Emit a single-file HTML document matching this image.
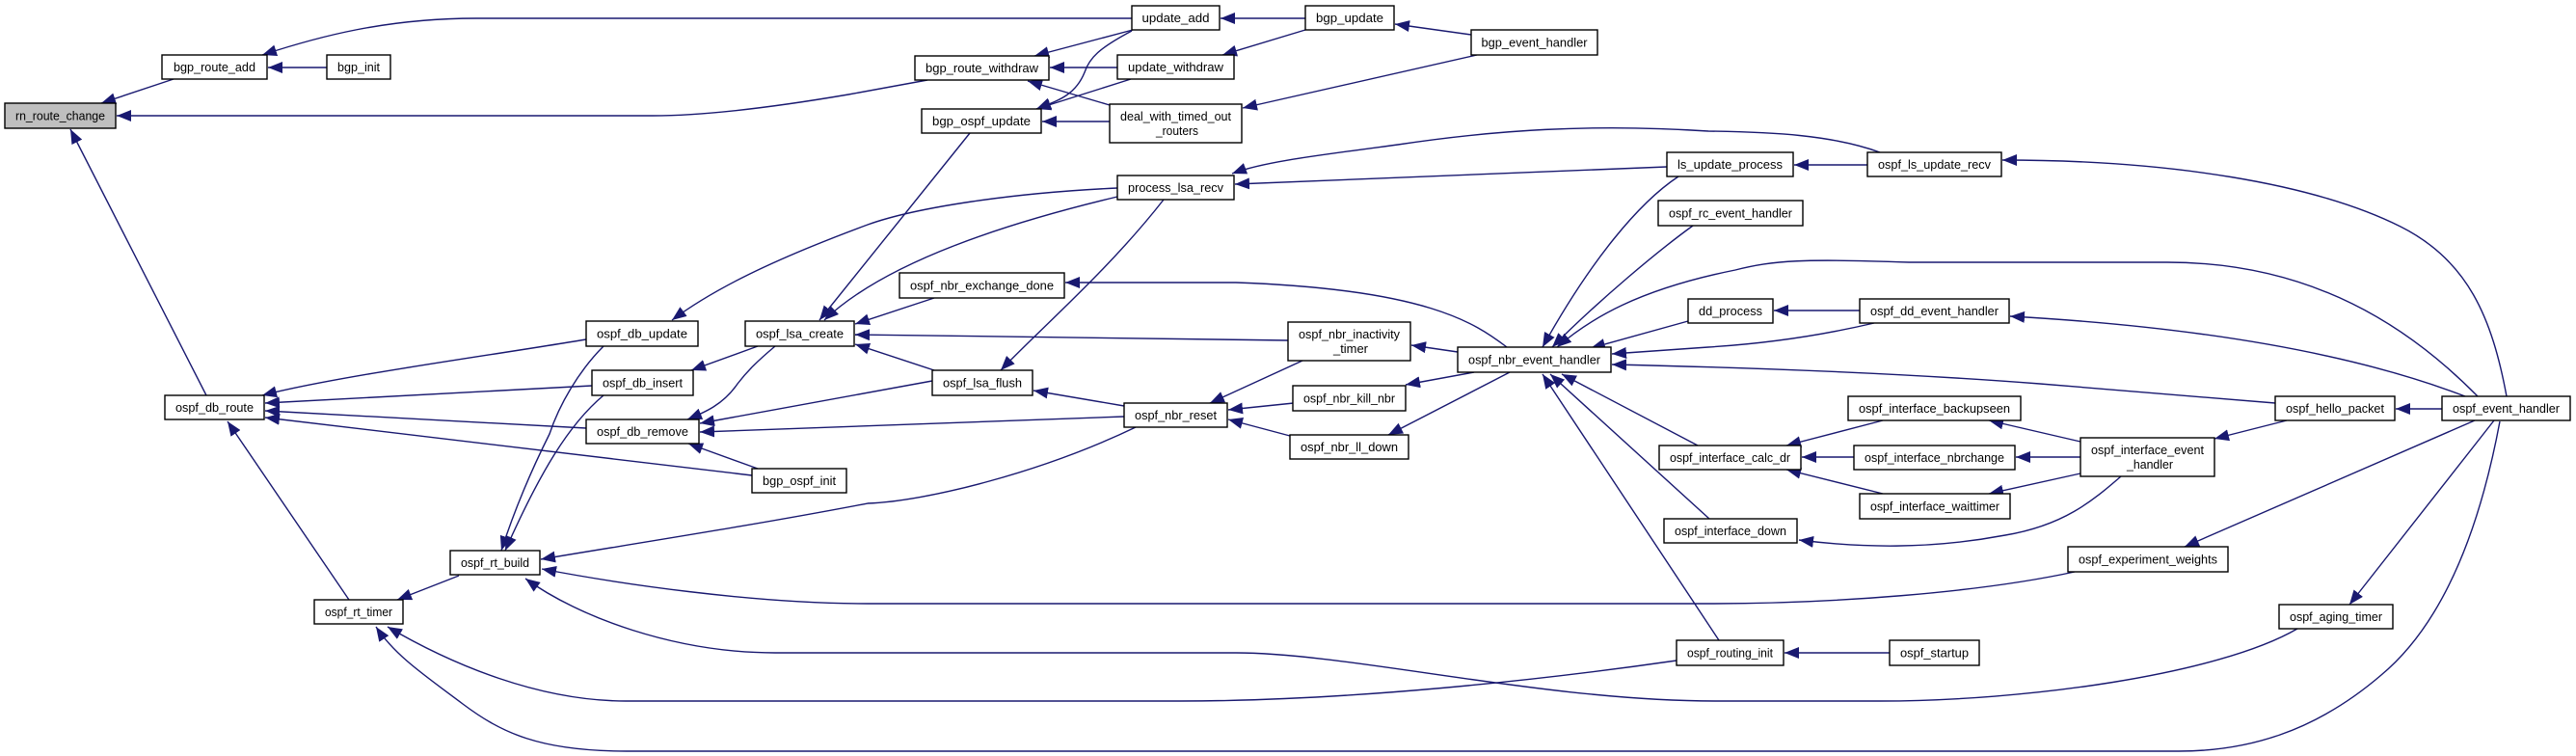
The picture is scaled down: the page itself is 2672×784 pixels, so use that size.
<!DOCTYPE html>
<html><head><meta charset="utf-8"><style>
html,body{margin:0;padding:0;background:#fff;}
svg{display:block;}
text{font-family:"Liberation Sans",Arial,sans-serif;font-size:13px;fill:#000;}
</style></head><body>
<svg width="2672" height="784" viewBox="0 0 2672 784" xmlns="http://www.w3.org/2000/svg">
<defs>
<marker id="a" markerUnits="userSpaceOnUse" markerWidth="16" markerHeight="12" refX="15" refY="6" orient="auto">
<path d="M0,0 L15,6 L0,12 z" fill="#191970"/>
</marker>
</defs>
<g fill="none" stroke="#191970" stroke-width="1.4" marker-end="url(#a)">
<path d="M180,82 L105,107"/>
<path d="M1174,19 L494,19 C400,19 330,38 272,57"/>
<path d="M339,70 L278,70"/>
<path d="M962,83 L880,98 C780,115 720,120 677,120 L121,120"/>
<path d="M214,410 L73,134"/>
<path d="M1175,31 L1073,58"/>
<path d="M1159,70 L1089,70"/>
<path d="M1151,109 L1066,84"/>
<path d="M1174,32 C1140,50 1130,60 1125,75 C1115,100 1095,105 1075,113"/>
<path d="M1173,82 L1075,113"/>
<path d="M1151,126 L1081,126"/>
<path d="M1354,19 L1266,19"/>
<path d="M1354,31 L1268,57"/>
<path d="M1526,36 L1447,25"/>
<path d="M1532,57 L1289,112"/>
<path d="M1006,138 L850,332"/>
<path d="M1159,204 C1050,230 920,270 855,332"/>
<path d="M1159,195 C1050,200 950,215 900,233 C800,270 740,300 697,332"/>
<path d="M1207,207 C1150,280 1080,340 1038,384"/>
<path d="M1729,173 L1281,191"/>
<path d="M1950,158 C1900,140 1840,137 1772,136 C1650,128 1550,135 1450,150 C1360,162 1310,168 1278,180"/>
<path d="M1937,171 L1861,171"/>
<path d="M2600,411 C2585,330 2560,270 2490,235 C2400,190 2250,166 2077,166"/>
<path d="M969,309 L887,336"/>
<path d="M1563,360 C1530,335 1480,300 1282,293 L1105,293"/>
<path d="M1336,353 L887,347"/>
<path d="M969,384 L887,357"/>
<path d="M786,359 L717,384"/>
<path d="M804,359 C785,375 775,385 765,398 C750,420 730,428 713,435"/>
<path d="M608,352 C500,370 350,390 272,410"/>
<path d="M614,400 L275,418"/>
<path d="M608,444 L275,426"/>
<path d="M780,493 L275,433"/>
<path d="M786,486 L714,460"/>
<path d="M967,395 L726,439"/>
<path d="M1166,432 L726,448"/>
<path d="M626,359 C600,385 580,420 570,450 C545,500 530,540 520,571"/>
<path d="M626,410 C590,440 560,490 524,571"/>
<path d="M1178,443 C1080,490 960,520 900,522 C780,545 650,565 561,580"/>
<path d="M2152,593 C2050,615 1900,626 1772,626 L900,626 C780,626 640,605 562,590"/>
<path d="M2383,652 C2300,700 2100,727 1950,727 L1780,727 C1600,727 1400,677 1282,677 L804,677 C700,677 600,640 545,600"/>
<path d="M1739,685 C1600,705 1400,727 1224,727 L649,727 C560,727 470,690 402,650"/>
<path d="M2593,437 C2570,560 2530,650 2470,700 C2400,760 2330,779 2260,779 L650,779 C560,779 520,760 480,730 C440,700 410,680 390,650"/>
<path d="M476,597 L412,622"/>
<path d="M362,622 L236,437"/>
<path d="M1351,374 L1255,418"/>
<path d="M1342,418 L1274,425"/>
<path d="M1338,452 L1274,435"/>
<path d="M1166,421 L1072,405"/>
<path d="M1512,365 L1464,358"/>
<path d="M1529,386 L1458,399"/>
<path d="M1566,386 L1440,451"/>
<path d="M1741,183 C1700,210 1650,270 1600,360"/>
<path d="M1756,234 C1720,260 1660,310 1610,360"/>
<path d="M2570,411 C2500,340 2400,272 2248,272 L1980,272 C1870,268 1840,270 1800,280 C1700,300 1650,330 1615,360"/>
<path d="M1751,333 L1650,361"/>
<path d="M1944,335 C1880,350 1820,357 1772,360 L1672,367"/>
<path d="M2360,418 L2116,398 C2000,389 1850,382 1672,378"/>
<path d="M1761,462 L1620,388"/>
<path d="M1773,538 L1608,388"/>
<path d="M1783,664 L1600,388"/>
<path d="M1929,322 L1840,322"/>
<path d="M2557,411 C2450,370 2300,340 2085,328"/>
<path d="M1953,436 L1853,462"/>
<path d="M1923,474 L1869,474"/>
<path d="M1953,512 L1853,487"/>
<path d="M2158,458 L2063,436"/>
<path d="M2158,474 L2091,474"/>
<path d="M2158,491 L2063,512"/>
<path d="M2200,494 C2170,520 2140,545 2080,555 C2000,570 1930,568 1866,560"/>
<path d="M2372,436 L2297,455"/>
<path d="M2533,424 L2485,424"/>
<path d="M2567,436 L2266,567"/>
<path d="M2587,436 L2437,627"/>
<path d="M1960,677 L1851,677"/>
</g>
<g stroke="#000" stroke-width="1.4" fill="#fff">
<rect x="5" y="107" width="115" height="26" fill="#bfbfbf"/>
<rect x="168" y="57" width="109" height="25"/>
<rect x="339" y="57" width="66" height="25"/>
<rect x="1174" y="6" width="91" height="25"/>
<rect x="1354" y="6" width="92" height="25"/>
<rect x="1526" y="31" width="131" height="26"/>
<rect x="949" y="58" width="139" height="25"/>
<rect x="1159" y="57" width="121" height="25"/>
<rect x="956" y="113" width="124" height="25"/>
<rect x="1151" y="108" width="137" height="40"/>
<rect x="1159" y="182" width="121" height="25"/>
<rect x="1729" y="158" width="131" height="25"/>
<rect x="1937" y="158" width="139" height="25"/>
<rect x="1720" y="208" width="150" height="26"/>
<rect x="933" y="283" width="171" height="26"/>
<rect x="1751" y="310" width="88" height="25"/>
<rect x="1929" y="310" width="155" height="25"/>
<rect x="1336" y="334" width="127" height="40"/>
<rect x="1512" y="360" width="159" height="26"/>
<rect x="608" y="333" width="116" height="26"/>
<rect x="773" y="333" width="113" height="26"/>
<rect x="614" y="384" width="105" height="26"/>
<rect x="967" y="384" width="104" height="26"/>
<rect x="171" y="410" width="103" height="25"/>
<rect x="608" y="435" width="117" height="25"/>
<rect x="1341" y="400" width="117" height="26"/>
<rect x="1166" y="418" width="107" height="25"/>
<rect x="1338" y="451" width="123" height="25"/>
<rect x="1917" y="411" width="179" height="25"/>
<rect x="2360" y="411" width="124" height="25"/>
<rect x="2533" y="411" width="133" height="25"/>
<rect x="1721" y="462" width="147" height="25"/>
<rect x="1923" y="462" width="167" height="25"/>
<rect x="2158" y="454" width="139" height="40"/>
<rect x="780" y="486" width="98" height="25"/>
<rect x="1929" y="512" width="156" height="26"/>
<rect x="1726" y="538" width="138" height="25"/>
<rect x="467" y="571" width="93" height="25"/>
<rect x="2145" y="567" width="166" height="26"/>
<rect x="326" y="622" width="92" height="25"/>
<rect x="2364" y="627" width="118" height="25"/>
<rect x="1739" y="664" width="111" height="26"/>
<rect x="1960" y="664" width="93" height="26"/>
</g>
<g text-anchor="middle">
<text x="62.5" y="124.5" textLength="93" lengthAdjust="spacingAndGlyphs">rn_route_change</text>
<text x="222.5" y="74" textLength="85" lengthAdjust="spacingAndGlyphs">bgp_route_add</text>
<text x="372" y="74" textLength="44" lengthAdjust="spacingAndGlyphs">bgp_init</text>
<text x="1219.5" y="23" textLength="70" lengthAdjust="spacingAndGlyphs">update_add</text>
<text x="1400" y="23" textLength="70" lengthAdjust="spacingAndGlyphs">bgp_update</text>
<text x="1591.5" y="48.5" textLength="110" lengthAdjust="spacingAndGlyphs">bgp_event_handler</text>
<text x="1018.5" y="75" textLength="117" lengthAdjust="spacingAndGlyphs">bgp_route_withdraw</text>
<text x="1219.5" y="74" textLength="99" lengthAdjust="spacingAndGlyphs">update_withdraw</text>
<text x="1018" y="130" textLength="102" lengthAdjust="spacingAndGlyphs">bgp_ospf_update</text>
<text x="1219.5" y="125" textLength="115" lengthAdjust="spacingAndGlyphs">deal_with_timed_out</text>
<text x="1221" y="140" textLength="44" lengthAdjust="spacingAndGlyphs">_routers</text>
<text x="1219.5" y="199" textLength="99" lengthAdjust="spacingAndGlyphs">process_lsa_recv</text>
<text x="1794.5" y="175" textLength="109" lengthAdjust="spacingAndGlyphs">ls_update_process</text>
<text x="2006.5" y="175" textLength="117" lengthAdjust="spacingAndGlyphs">ospf_ls_update_recv</text>
<text x="1795" y="225.5" textLength="128" lengthAdjust="spacingAndGlyphs">ospf_rc_event_handler</text>
<text x="1018.5" y="300.5" textLength="149" lengthAdjust="spacingAndGlyphs">ospf_nbr_exchange_done</text>
<text x="1795" y="327" textLength="66" lengthAdjust="spacingAndGlyphs">dd_process</text>
<text x="2006.5" y="327" textLength="133" lengthAdjust="spacingAndGlyphs">ospf_dd_event_handler</text>
<text x="1399.5" y="351" textLength="105" lengthAdjust="spacingAndGlyphs">ospf_nbr_inactivity</text>
<text x="1401" y="366" textLength="36" lengthAdjust="spacingAndGlyphs">_timer</text>
<text x="1591.5" y="377.5" textLength="137" lengthAdjust="spacingAndGlyphs">ospf_nbr_event_handler</text>
<text x="666" y="350.5" textLength="94" lengthAdjust="spacingAndGlyphs">ospf_db_update</text>
<text x="829.5" y="350.5" textLength="91" lengthAdjust="spacingAndGlyphs">ospf_lsa_create</text>
<text x="666.5" y="401.5" textLength="83" lengthAdjust="spacingAndGlyphs">ospf_db_insert</text>
<text x="1019" y="401.5" textLength="82" lengthAdjust="spacingAndGlyphs">ospf_lsa_flush</text>
<text x="222.5" y="427" textLength="81" lengthAdjust="spacingAndGlyphs">ospf_db_route</text>
<text x="666.5" y="452" textLength="95" lengthAdjust="spacingAndGlyphs">ospf_db_remove</text>
<text x="1399.5" y="417.5" textLength="95" lengthAdjust="spacingAndGlyphs">ospf_nbr_kill_nbr</text>
<text x="1219.5" y="435" textLength="85" lengthAdjust="spacingAndGlyphs">ospf_nbr_reset</text>
<text x="1399.5" y="468" textLength="101" lengthAdjust="spacingAndGlyphs">ospf_nbr_ll_down</text>
<text x="2006.5" y="428" textLength="157" lengthAdjust="spacingAndGlyphs">ospf_interface_backupseen</text>
<text x="2422" y="428" textLength="102" lengthAdjust="spacingAndGlyphs">ospf_hello_packet</text>
<text x="2599.5" y="428" textLength="111" lengthAdjust="spacingAndGlyphs">ospf_event_handler</text>
<text x="1794.5" y="479" textLength="125" lengthAdjust="spacingAndGlyphs">ospf_interface_calc_dr</text>
<text x="2006.5" y="479" textLength="145" lengthAdjust="spacingAndGlyphs">ospf_interface_nbrchange</text>
<text x="2227.5" y="471" textLength="117" lengthAdjust="spacingAndGlyphs">ospf_interface_event</text>
<text x="2230" y="486" textLength="48" lengthAdjust="spacingAndGlyphs">_handler</text>
<text x="829" y="503" textLength="76" lengthAdjust="spacingAndGlyphs">bgp_ospf_init</text>
<text x="2007" y="529.5" textLength="134" lengthAdjust="spacingAndGlyphs">ospf_interface_waittimer</text>
<text x="1795" y="555" textLength="116" lengthAdjust="spacingAndGlyphs">ospf_interface_down</text>
<text x="513.5" y="588" textLength="71" lengthAdjust="spacingAndGlyphs">ospf_rt_build</text>
<text x="2228" y="584.5" textLength="144" lengthAdjust="spacingAndGlyphs">ospf_experiment_weights</text>
<text x="372" y="639" textLength="70" lengthAdjust="spacingAndGlyphs">ospf_rt_timer</text>
<text x="2423" y="644" textLength="96" lengthAdjust="spacingAndGlyphs">ospf_aging_timer</text>
<text x="1794.5" y="681.5" textLength="89" lengthAdjust="spacingAndGlyphs">ospf_routing_init</text>
<text x="2006.5" y="681.5" textLength="71" lengthAdjust="spacingAndGlyphs">ospf_startup</text>
</g>
</svg>
</body></html>
